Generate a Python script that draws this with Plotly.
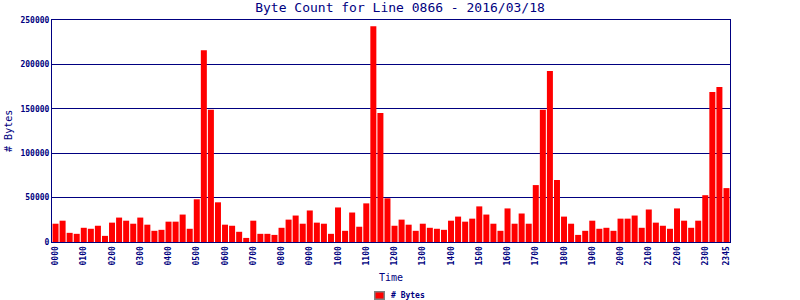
import plotly.graph_objects as go

times = [f"{h:02d}{m:02d}" for h in range(24) for m in (0, 15, 30, 45)]

byte_counts = [
    20600, 24000, 10300, 9200, 16000, 14900, 18300, 6900,
    21800, 27500, 24000, 20600, 27500, 19500, 12600, 13700,
    22900, 22900, 30900, 14900, 48100, 216000, 149000, 44700,
    19500, 18300, 11500, 4600, 24000, 9200, 9200, 8000,
    16000, 25200, 29800, 20600, 35500, 21800, 20600, 9200,
    38900, 12600, 33200, 17200, 43500, 243000, 145300, 49200,
    18300, 25200, 19500, 12600, 20600, 16000, 14900, 13700,
    24000, 28600, 22900, 26300, 40100, 30900, 20600, 12600,
    37800, 20600, 32100, 20600, 64100, 149000, 192500, 69800,
    28600, 20600, 8000, 12600, 24000, 14900, 16000, 12600,
    26300, 26300, 29800, 16000, 36600, 21800, 18300, 14900,
    37800, 24000, 16000, 24000, 52700, 168900, 174500, 60700,
]

tick_labels = ["0000", "0100", "0200", "0300", "0400", "0500", "0600", "0700",
               "0800", "0900", "1000", "1100", "1200", "1300", "1400", "1500",
               "1600", "1700", "1800", "1900", "2000", "2100", "2200", "2300", "2345"]

y_ticks = [0, 50000, 100000, 150000, 200000, 250000]

NAVY = "#000080"
FONT = "DejaVu Sans Mono"

fig = go.Figure()
fig.add_trace(go.Bar(
    x=times, y=byte_counts, name="# Bytes",
    marker=dict(color="#ff0000", line=dict(width=0)),
    showlegend=False,
))

fig.update_layout(
    width=800, height=300,
    margin=dict(l=52, r=70, t=20, b=58, autoexpand=False),
    paper_bgcolor="white", plot_bgcolor="white",
    bargap=0.15,
    showlegend=False,
    title=dict(text="Byte Count for Line 0866 - 2016/03/18",
               x=0.5, xref="container", xanchor="center",
               y=1, yref="container", yanchor="top", pad=dict(t=3),
               font=dict(family=FONT, size=13, color=NAVY)),
    xaxis=dict(
        type="category", categoryorder="array", categoryarray=times,
        tickmode="array", tickvals=tick_labels, ticktext=tick_labels,
        tickangle=-90, tickfont=dict(family=FONT, size=8, color=NAVY, weight="bold"),
        showgrid=False, showline=True, linecolor=NAVY, linewidth=1, mirror=True,
        ticks="", ticklen=0, automargin=False,
        range=[-0.5, 95.5],
    ),
    yaxis=dict(
        range=[0, 250000], tickvals=y_ticks, ticktext=[str(v) for v in y_ticks],
        tickfont=dict(family=FONT, size=8, color=NAVY, weight="bold"),
        showgrid=True, gridcolor=NAVY, gridwidth=1,
        showline=True, linecolor=NAVY, linewidth=1, mirror=True,
        zeroline=False, ticks="", ticklen=0, automargin=False,
    ),
    annotations=[
        dict(text="Time", xref="paper", yref="paper", x=0.5, y=-0.162,
             xanchor="center", yanchor="middle", showarrow=False,
             font=dict(family=FONT, size=10, color=NAVY)),
        dict(text="# Bytes", xref="paper", yref="paper", x=-0.065, y=0.5,
             xanchor="center", yanchor="middle", showarrow=False, textangle=-90,
             font=dict(family=FONT, size=10, color=NAVY)),
        # legend: swatch + label
        dict(text=" ", xref="paper", yref="paper", x=(374 - 52) / 678, y=-(295 - 242) / 222,
             xanchor="left", yanchor="middle", showarrow=False,
             bgcolor="#ff0000", bordercolor="#808080", borderwidth=1.5,
             width=8, height=6, borderpad=0,
             font=dict(family=FONT, size=6, color="#ff0000")),
        dict(text="<b># Bytes</b>", xref="paper", yref="paper", x=(389 - 52) / 678,
             y=-(295 - 242) / 222, xanchor="left", yanchor="middle", showarrow=False,
             font=dict(family=FONT, size=8, color=NAVY)),
    ],
)

fig.write_html("out.html")
